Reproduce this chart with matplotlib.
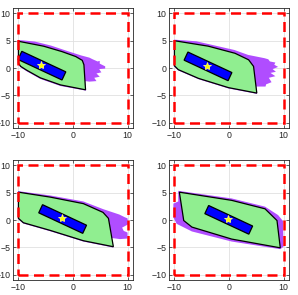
import matplotlib
matplotlib.use('Agg')
import matplotlib.pyplot as plt
import numpy as np
from matplotlib.patches import Polygon, Rectangle

plt.rcParams['font.family'] = ['Liberation Sans', 'DejaVu Sans']

# reachable set outlines (purple), one per panel
purple_tl = [(-10.1, 5.15), (-7, 4.85), (-4, 4.1), (-1, 3.1), (1.5, 2.3), (3.0, 1.9), (3.6, 1.6),
             (4.5, 1.2), (4.9, 1.3), (4.9, 0.8), (5.9, 0.3), (5.9, -0.1), (4.8, -0.2), (5.2, -0.8),
             (4.3, -1.0), (4.9, -1.6), (3.9, -1.8), (4.3, -2.4), (3.0, -2.5), (2.25, -2.4),
             (2.4, -4.15), (-2.3, -3.3), (-6, -2.0), (-8.5, -0.6), (-9.7, 0.2), (-10.1, 0.8)]
purple_tr = [(-10.1, 5.2), (-6, 4.9), (-2.5, 4.1), (1, 3.3), (3.5, 2.4), (5.5, 2.0), (6.5, 1.8),
             (7.2, 1.6), (7.5, 1.2), (8.5, 1.0), (8.3, 0.6), (9.0, 0.2), (8.0, -0.2), (8.6, -0.7),
             (7.6, -0.9), (8.5, -1.5), (7.3, -1.8), (7.8, -2.6), (6.8, -3.0), (6.7, -3.4), (5.0, -3.4),
             (5.15, -4.75), (-0.1, -3.75), (-5.6, -2.05), (-9.3, -0.45), (-10.1, 0.3)]
purple_bl = [(-10.1, 5.3), (-4.2, 4.5), (1.9, 3.4), (5.5, 2.0), (7, 1.5), (8.5, 1.0), (9.5, 0.5),
             (10.0, 0.3), (10.1, -0.8), (9.0, -1.4), (9.3, -2.0), (10.0, -2.3), (10.0, -3.4),
             (8.6, -3.5), (7.1, -3.3), (7.4, -5.05), (1.9, -3.95), (-4.2, -2.05), (-9.1, -0.65),
             (-10.1, 0.2)]
purple_br = [(-9.3, 5.35), (0.5, 3.95), (6.6, 2.45), (9.0, 0.9), (9.9, -0.2), (10.0, -4.9),
             (9.4, -5.35), (0.5, -3.95), (-6.8, -2.1), (-9.6, -0.7), (-10.2, 0.5), (-10.2, 3.0),
             (-9.3, 3.4)]

# safe set polygons (green)
green_tl = [(-10, 4.9), (-5.4, 4.0), (-2, 3.0), (0.5, 2.1), (1.7, 1.4), (2.0, 0.6), (2.3, -4.0),
            (-2.3, -3.1), (-6, -1.8), (-8.5, -0.4), (-9.6, 0.3), (-10, 0.9)]
green_tr = [(-10, 5.0), (-3.8, 4.0), (1.1, 2.7), (3.6, 1.5), (4.5, 0.3), (5.1, -4.6), (-0.1, -3.6),
            (-5.6, -1.9), (-9.3, -0.3), (-10, 0.4)]
green_bl = [(-10, 5.1), (-4.2, 4.2), (1.9, 3.0), (5.5, 1.4), (6.5, 0.3), (7.4, -4.9), (1.9, -3.8),
            (-4.2, -1.9), (-9.1, -0.5), (-10, 0.3)]
green_br = [(-9.1, 5.1), (0.5, 3.6), (6.6, 2.05), (8.8, -0.1), (9.4, -5.1), (0.5, -3.5),
            (-6.8, -1.3), (-8.3, -0.1)]

# vehicle (blue box) centres and star positions
box_x = [-5.7, -3.85, -1.9, -0.05]
box_y = [0.43, 0.3, 0.18, 0.03]
star_x = [-5.9, -4.0, -2.1, -0.1]
star_y = [0.6, 0.3, 0.3, 0.1]
box_len, box_wid, box_ang = 8.9, 1.65, -25.0

purples = [purple_tl, purple_tr, purple_bl, purple_br]
greens = [green_tl, green_tr, green_bl, green_br]

fig = plt.figure(figsize=(2.98, 2.95), dpi=100)
W, H = 298, 295
boxes = [(13, 8), (169, 8), (13, 160), (169, 160)]

for i in range(4):
    x0, y0 = boxes[i]
    ax = fig.add_axes([x0 / W, 1 - (y0 + 120) / H, 120 / W, 120 / H])
    ax.add_patch(Polygon(purples[i], closed=True, fc='#b04dff', ec='none', zorder=2))
    ax.add_patch(Polygon(greens[i], closed=True, fc='#90ee90', ec='black', lw=0.9, zorder=3))
    # rotated rectangle around its centre
    t = np.deg2rad(box_ang)
    cx = box_x[i] - (box_len / 2) * np.cos(t) + (box_wid / 2) * np.sin(t)
    cy = box_y[i] - (box_len / 2) * np.sin(t) - (box_wid / 2) * np.cos(t)
    ax.add_patch(Rectangle((cx, cy), box_len, box_wid, angle=box_ang, fc='#0000ff', ec='black',
                           lw=0.9, zorder=4))
    ax.plot(star_x[i], star_y[i], marker='*', ms=6, color='#ffff00', mec='#ffff66', mew=0.6,
            zorder=5)
    ax.add_patch(Rectangle((-10, -10), 20, 20, fill=False, ec='red', lw=1.8, ls=(0, (4, 2.2)),
                           zorder=6))
    ax.set_xlim(-11, 11)
    ax.set_ylim(-11, 11)
    ax.set_xticks([-10, 0, 10])
    ax.set_yticks([-10, -5, 0, 5, 10])
    ax.grid(True, color='#e0e0e0', lw=0.6, zorder=0)
    ax.set_axisbelow(True)
    ax.tick_params(direction='in', length=2.5, width=0.5, labelsize=6.3, pad=2,
                   colors='#262626', top=True, right=True)
    for s in ax.spines.values():
        s.set_color('#262626')
        s.set_linewidth(0.6)

plt.savefig('out.png', dpi=100)
